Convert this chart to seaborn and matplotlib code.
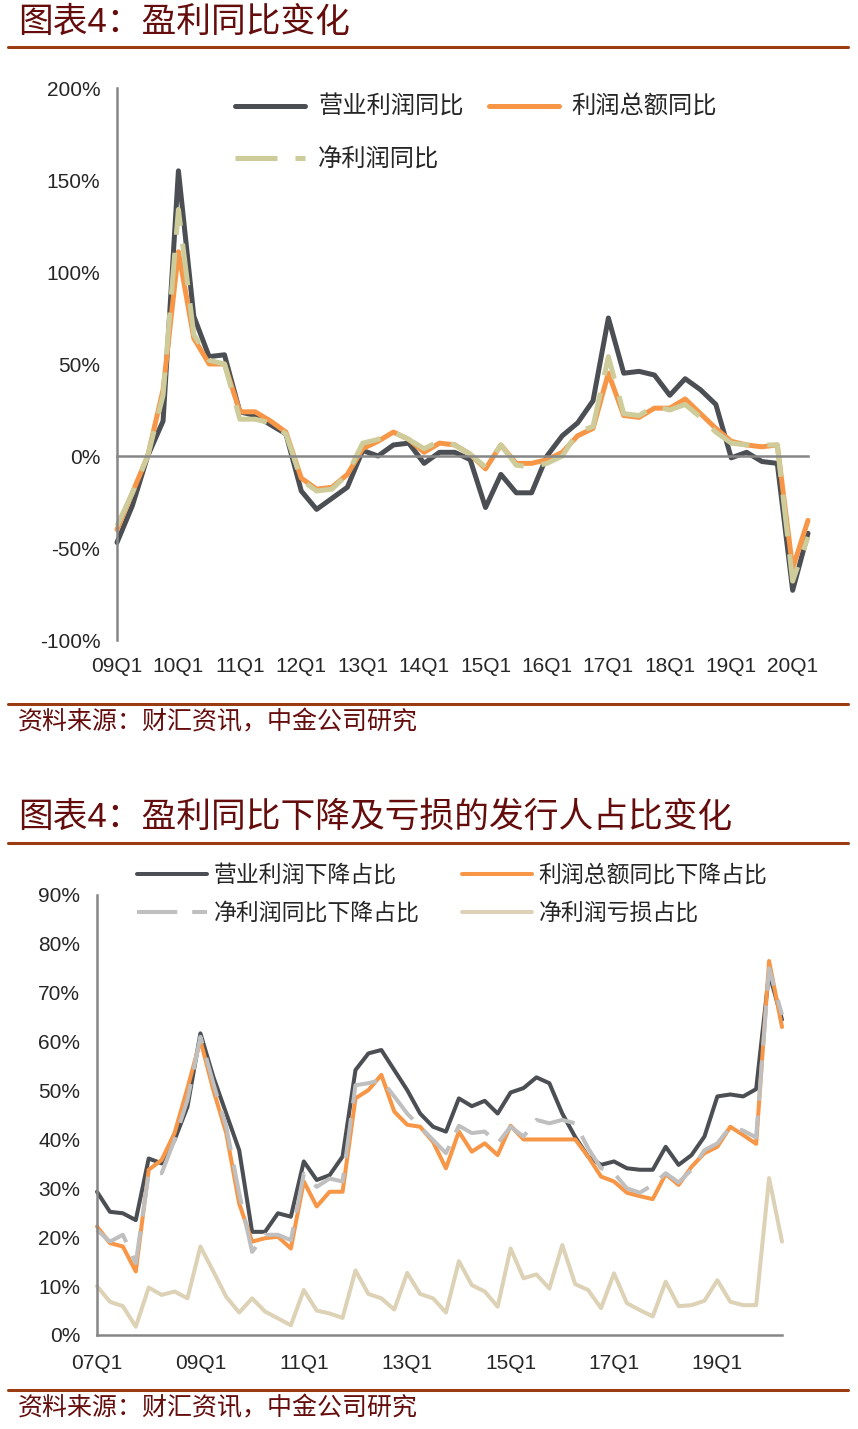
import numpy as np
import pandas as pd
import matplotlib
matplotlib.use('Agg')
import matplotlib.pyplot as plt
from matplotlib.lines import Line2D
import seaborn as sns

# ---- data: chart 1 (09Q1 - 20Q2), yoy growth in %
top_quarters = [f'{y:02d}Q{q}' for y in range(9, 21) for q in range(1, 5)][:46]
op_profit_yoy = [-47, -27, 0, 19, 155, 76, 54, 55, 24, 22, 17, 12,
                 -19, -29, -23, -17, 3, 0, 6, 7, -4, 2, 2, -2,
                 -28, -10, -20, -20, 0, 11, 18, 30, 75, 45, 46, 44,
                 33, 42, 36, 28, -1, 2, -3, -4, -73, -42]
total_profit_yoy = [-40, -20, 0, 36, 111, 64, 50, 50, 24, 24, 19, 13,
                    -12, -18, -17, -10, 4, 8, 13, 9, 2, 7, 6, 1,
                    -7, 6, -4, -4, -2, 2, 11, 15, 45, 22, 21, 26,
                    26, 31, 23, 15, 8, 6, 5, 6, -61, -35]
net_profit_yoy = [-38, -20, 0, 33, 134, 66, 52, 50, 20, 20, 18, 12,
                  -13, -19, -18, -10, 7, 9, 13, 9, 4, 8, 6, 1,
                  -6, 6, -5, -6, -4, 0, 13, 16, 54, 23, 22, 27,
                  25, 28, 21, 13, 7, 6, 6, 6, -68, -44]
top_labels = ['营业利润同比', '利润总额同比', '净利润同比']

# ---- data: chart 2 (07Q1 - 20Q2), share of issuers in %
bot_quarters = [f'{y:02d}Q{q}' for y in range(7, 21) for q in range(1, 5)][:54]
op_decline = [29.3, 25.2, 24.9, 23.5, 36.1, 35.1, 39.9, 46.7, 61.7, 52.8, 45.3, 37.8,
              21.1, 21.1, 24.9, 24.2, 35.5, 31.7, 32.7, 36.5, 54.2, 57.6, 58.3, 54.2,
              50.1, 45.3, 42.6, 41.6, 48.4, 46.8, 47.9, 45.3, 49.6, 50.5, 52.7, 51.5,
              45.3, 40.5, 36.5, 34.8, 35.5, 34.1, 33.8, 33.8, 38.5, 34.8, 36.8, 40.6,
              48.8, 49.2, 48.8, 50.3, 74.0, 64.5]
total_decline = [22.2, 18.8, 18.1, 13.0, 33.8, 35.8, 41.3, 50.5, 60.3, 50.1, 41.3, 26.9,
                 19.1, 19.8, 20.1, 17.7, 31.4, 26.3, 29.3, 29.3, 48.4, 50.1, 53.2, 45.7,
                 43.0, 42.6, 39.5, 34.1, 41.6, 37.5, 39.2, 36.8, 42.8, 40.0, 40.0, 40.0,
                 40.0, 40.0, 36.5, 32.4, 31.4, 29.1, 28.4, 27.8, 32.9, 30.7, 34.4, 37.2,
                 38.5, 42.6, 40.9, 39.1, 76.5, 63.0]
net_decline = [21.5, 19.1, 20.5, 14.7, 33.1, 33.1, 39.9, 48.1, 61.0, 51.5, 42.6, 29.0,
               17.0, 20.5, 20.5, 19.4, 33.0, 30.3, 32.0, 31.4, 51.1, 51.5, 52.2, 48.8,
               45.3, 42.6, 39.9, 37.2, 42.8, 41.3, 41.6, 39.2, 42.6, 40.6, 44.0, 43.3,
               44.0, 43.3, 38.2, 34.1, 33.1, 30.0, 29.1, 30.7, 33.1, 31.2, 33.8, 37.8,
               39.2, 42.6, 41.8, 40.4, 75.0, 65.5]
loss_share = [10.0, 6.8, 5.9, 1.7, 9.7, 8.2, 8.9, 7.5, 18.1, 13.0, 7.8, 4.6,
              7.5, 4.8, 3.4, 2.0, 9.2, 5.0, 4.4, 3.5, 13.2, 8.4, 7.5, 5.2,
              12.7, 8.4, 7.5, 4.6, 15.1, 10.2, 8.9, 5.8, 17.7, 11.6, 12.4, 9.5,
              18.4, 10.4, 9.2, 5.5, 12.6, 6.5, 5.1, 3.8, 10.9, 5.9, 6.1, 7.0,
              11.2, 6.8, 6.1, 6.1, 32.1, 19.1]
bot_labels = ['营业利润下降占比', '利润总额同比下降占比', '净利润同比下降占比', '净利润亏损占比']

# ---- style
sns.set_style('white')
plt.rcParams['font.family'] = ['Liberation Sans', 'Noto Sans CJK SC', 'DejaVu Sans']

DARK = '#4b4f54'
ORANGE = '#f79646'
KHAKI = '#cdcc9a'
GRAY = '#bfbfbf'
BEIGE = '#ddd2b6'
AXIS = '#868686'
TITLE = '#650c0c'
RULE = '#9a3b12'

W, H = 858, 1429
fig = plt.figure(figsize=(W / 100, H / 100), dpi=100)


def fx(px):
    return px / W


def fy(py):
    return 1 - py / H


def header(title_y, rule_y, src_rule_y, src_y, title):
    fig.text(fx(18), fy(title_y), title, fontsize=25, color=TITLE, va='center', ha='left')
    for ry in (rule_y, src_rule_y):
        fig.add_artist(Line2D([fx(8), fx(848)], [fy(ry), fy(ry)], transform=fig.transFigure,
                              color=RULE, lw=2.2))
    fig.text(fx(18), fy(src_y), '资料来源：财汇资讯，中金公司研究', fontsize=18,
             color=TITLE, va='center', ha='left')


def style_axis(ax):
    sns.despine(ax=ax)
    for s in ('left', 'bottom'):
        ax.spines[s].set_color(AXIS)
        ax.spines[s].set_linewidth(1.8)
    ax.tick_params(axis='both', direction='in', color=AXIS, width=1.8, length=6,
                   labelsize=15, pad=12)


# ================= chart 1 =================
header(22, 47, 704, 722, '图表4：盈利同比变化')
ax1 = fig.add_axes([fx(117), fy(640), fx(808 - 117), (640 - 88) / H])
df1 = pd.DataFrame({'idx': np.arange(len(top_quarters)),
                    'op': op_profit_yoy, 'total': total_profit_yoy, 'net': net_profit_yoy})
sns.lineplot(data=df1, x='idx', y='op', ax=ax1, color=DARK, lw=3.6, label=top_labels[0], clip_on=False)
sns.lineplot(data=df1, x='idx', y='total', ax=ax1, color=ORANGE, lw=3.6, label=top_labels[1], clip_on=False)
sns.lineplot(data=df1, x='idx', y='net', ax=ax1, color=KHAKI, lw=3.6, label=top_labels[2],
             linestyle=(0, (8.4, 3.6)), clip_on=False)
ax1.set_xlim(0, len(top_quarters) - 1)
ax1.set_ylim(-100, 200)
ax1.set_xlabel('')
ax1.set_ylabel('')
style_axis(ax1)
ax1.spines['bottom'].set_position(('data', 0))
ax1.set_xticks(range(len(top_quarters)))
ax1.tick_params(axis='x', labelbottom=False, length=5)
yt1 = list(range(-100, 201, 50))
ax1.set_yticks(yt1, [f'{v}%' for v in yt1])
sec1 = ax1.secondary_xaxis('bottom')
sec1.set_xticks(range(0, len(top_quarters), 4), top_quarters[::4])
sec1.tick_params(length=0, labelsize=15, pad=12)
sec1.spines['bottom'].set_visible(False)

h, l = ax1.get_legend_handles_labels()
fs1 = 17.5 * 100 / 72
ax1.legend([h[0], h[2], h[1]], [l[0], l[2], l[1]], ncol=2, loc='upper left',
           bbox_to_anchor=(fx(235), fy(96)), bbox_transform=fig.transFigure,
           frameon=False, fontsize=17.5, handlelength=70 / fs1, handletextpad=13 / fs1,
           columnspacing=25 / fs1, labelspacing=1.2, borderpad=0, borderaxespad=0)

# ================= chart 2 =================
header(817, 843, 1390, 1408, '图表4：盈利同比下降及亏损的发行人占比变化')
ax2 = fig.add_axes([fx(97), fy(1335), fx(782 - 97), (1335 - 895) / H])
df2 = pd.DataFrame({'idx': np.arange(len(bot_quarters)), 'op': op_decline,
                    'total': total_decline, 'net': net_decline, 'loss': loss_share})
sns.lineplot(data=df2, x='idx', y='op', ax=ax2, color=DARK, lw=2.9, label=bot_labels[0], clip_on=False)
sns.lineplot(data=df2, x='idx', y='total', ax=ax2, color=ORANGE, lw=2.9, label=bot_labels[1], clip_on=False)
sns.lineplot(data=df2, x='idx', y='net', ax=ax2, color=GRAY, lw=2.9, label=bot_labels[2],
             linestyle=(0, (10, 3.7)), clip_on=False)
sns.lineplot(data=df2, x='idx', y='loss', ax=ax2, color=BEIGE, lw=2.9, label=bot_labels[3], clip_on=False)
ax2.set_xlim(0, len(bot_quarters) - 1)
ax2.set_ylim(0, 90)
ax2.set_xlabel('')
ax2.set_ylabel('')
style_axis(ax2)
ax2.set_xticks(range(len(bot_quarters)))
ax2.set_xticklabels([q if i % 8 == 0 else '' for i, q in enumerate(bot_quarters)])
ax2.tick_params(axis='x', length=5, pad=14)
yt2 = list(range(0, 91, 10))
ax2.set_yticks(yt2, [f'{v}%' for v in yt2])

h, l = ax2.get_legend_handles_labels()
fs2 = 16.5 * 100 / 72
ax2.legend([h[0], h[2], h[1], h[3]], [l[0], l[2], l[1], l[3]], ncol=2, loc='upper left',
           bbox_to_anchor=(fx(137), fy(864)), bbox_transform=fig.transFigure,
           frameon=False, fontsize=16.5, handlelength=70 / fs2, handletextpad=7 / fs2,
           columnspacing=42 / fs2, labelspacing=0.65, borderpad=0, borderaxespad=0)

fig.savefig('out.png', dpi=100, facecolor='white')
